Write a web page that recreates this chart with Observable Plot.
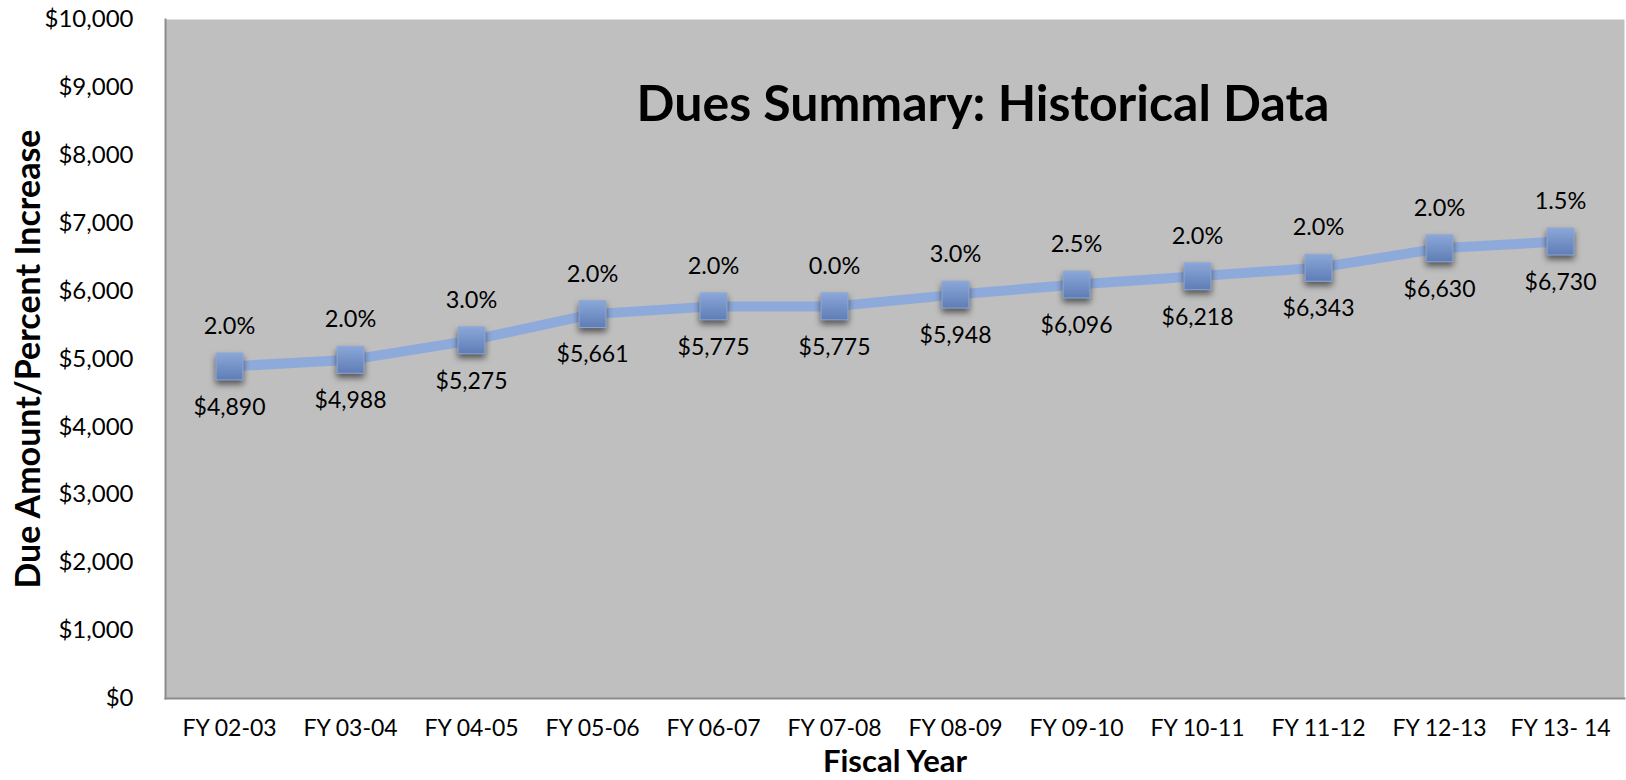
<!DOCTYPE html>
<html><head><meta charset="utf-8">
<script src="https://cdn.jsdelivr.net/npm/d3@7"></script>
<script src="https://cdn.jsdelivr.net/npm/@observablehq/plot@0.6"></script>
<style>
body{margin:0;background:#fff;}
#chart svg{font-family:Lato,"Open Sans",sans-serif;}
g[aria-label="y-axis label"] text, g[aria-label="x-axis label"] text{font-weight:bold;}
g[aria-label="dot"] path{filter:drop-shadow(0px 4px 3px rgba(0,0,0,0.55));}
</style>
</head><body><div id="chart"></div>
<script>
const years = ["FY 02-03","FY 03-04","FY 04-05","FY 05-06","FY 06-07","FY 07-08","FY 08-09","FY 09-10","FY 10-11","FY 11-12","FY 12-13","FY 13- 14"];
const dues = [4890,4988,5275,5661,5775,5775,5948,6096,6218,6343,6630,6730];
const pctIncrease = [2.0,2.0,3.0,2.0,2.0,0.0,3.0,2.5,2.0,2.0,2.0,1.5];
const yTicks = [0,1000,2000,3000,4000,5000,6000,7000,8000,9000,10000];
const title = "Dues Summary: Historical Data";

const data = years.map((y,i)=>({year:y, due:dues[i], pct:pctIncrease[i]}));
const money = d3.format("$,");

const plot = Plot.plot({
  width:1626, height:780,
  marginLeft:165, marginRight:2, marginTop:19, marginBottom:82,
  style:{fontSize:"24px", color:"#000", background:"#fff"},
  x:{type:"point", domain:years, padding:0.5, label:null},
  y:{domain:[0,10000], label:null},
  marks:[
    Plot.frame({fill:"#bfbfbf", stroke:null}),
    Plot.frame({anchor:"left", stroke:"#8c8c8c", strokeWidth:2}),
    Plot.frame({anchor:"bottom", stroke:"#8c8c8c", strokeWidth:2}),
    Plot.axisY({ticks:yTicks, tickFormat:money, tickSize:0, tickPadding:32, fontSize:24,
      label:"Due Amount/Percent Increase", labelAnchor:"center", labelArrow:"none", labelOffset:150}),
    Plot.axisX({tickSize:0, tickPadding:21, fontSize:23,
      label:"Fiscal Year", labelAnchor:"center", labelArrow:"none", labelOffset:73}),
    Plot.line(data,{x:"year", y:"due", stroke:"#8eaadb", strokeWidth:10}),
    Plot.dot(data,{x:"year", y:"due", symbol:"square", r:15.2, fill:"url(#mgrad)", stroke:"#8fa9d6", strokeWidth:1}),
    Plot.text(data,{x:"year", y:"due", text:d=>d.pct.toFixed(1)+"%", dy:-40, fontSize:23.5, fill:"#000"}),
    Plot.text(data,{x:"year", y:"due", text:d=>money(d.due), dy:41, fontSize:23, fill:"#000"}),
    Plot.text([title],{frameAnchor:"top", dx:88, dy:66, fontSize:50, fontWeight:"bold", fill:"#000"})
  ]
});
const svg = d3.select(plot);
const defs = svg.insert("defs",":first-child");
const g = defs.append("linearGradient").attr("id","mgrad").attr("x1",0).attr("y1",0).attr("x2",0).attr("y2",1);
g.append("stop").attr("offset","0%").attr("stop-color","#8ba7d9");
g.append("stop").attr("offset","100%").attr("stop-color","#5f7db5");
svg.selectAll('g[aria-label="y-axis label"] text').style("font-size","34px");
svg.selectAll('g[aria-label="x-axis label"] text').style("font-size","31px");
document.getElementById("chart").appendChild(plot);
</script>
</body></html>
